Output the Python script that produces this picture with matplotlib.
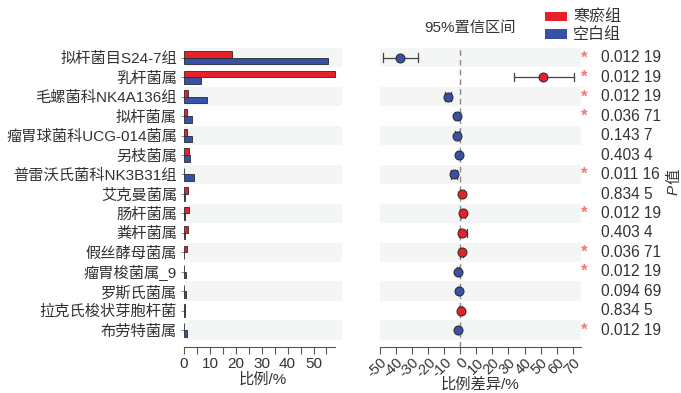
import matplotlib
matplotlib.use("Agg")
import matplotlib.pyplot as plt
from matplotlib.patches import Rectangle
import numpy as np

plt.rcParams['font.family'] = ['Liberation Sans', 'Noto Sans CJK SC']
plt.rcParams['axes.unicode_minus'] = False

# genus names, top to bottom
genera = ["拟杆菌目S24-7组", "乳杆菌属", "毛螺菌科NK4A136组", "拟杆菌属",
          "瘤胃球菌科UCG-014菌属", "另枝菌属", "普雷沃氏菌科NK3B31组", "艾克曼菌属",
          "肠杆菌属", "粪杆菌属", "假丝酵母菌属", "瘤胃梭菌属_9", "罗斯氏菌属",
          "拉克氏梭状芽胞杆菌", "布劳特菌属"]
# mean proportion (%) per group
cold = [18.4, 58.2, 1.7, 1.0, 1.0, 1.8, 0.1, 1.7, 2.1, 1.6, 1.0, 0.1, 0.1, 0.5, 0.1]
blank = [55.5, 6.4, 8.8, 3.2, 2.9, 2.4, 3.9, 0.2, 0.2, 0.2, 0.1, 0.9, 0.9, 0.3, 1.1]
# difference in proportion and 95% CI
diff = [-37.6, 51.7, -7.5, -2.2, -1.9, -0.6, -3.9, 1.3, 1.9, 1.3, 0.9, -1.2, -0.8, 0.2, -1.2]
ci_low = [-48.0, 33.7, -9.5, -3.5, -3.2, -1.8, -5.6, 0.2, 0.6, -0.8, -0.2, -1.8, -1.6, -0.8, -1.9]
ci_high = [-26.5, 70.6, -5.5, -0.9, -0.6, 0.6, -2.2, 2.4, 3.2, 4.0, 2.0, -0.6, 0.0, 1.2, -0.5]
p_values = [0.01219, 0.01219, 0.01219, 0.03671, 0.1437, 0.4034, 0.01116, 0.8345,
            0.01219, 0.4034, 0.03671, 0.01219, 0.09469, 0.8345, 0.01219]

RED = '#e8202a'
BLUE = '#3850a6'
EDGE = '#2a2a2a'
BAND = '#f4f5f5'
TXT = '#333333'

fig = plt.figure(figsize=(6.81, 3.93), dpi=100)
W, H = 681, 393

def px_axes(x0, x1, y0, y1):
    return fig.add_axes([x0 / W, 1 - y1 / H, (x1 - x0) / W, (y1 - y0) / H])

n = len(genera)
y = np.arange(n)
ylim = (14.87, -0.5)

ax1 = px_axes(184, 342, 48, 347)
ax2 = px_axes(380, 580.7, 48, 347)

for ax in (ax1, ax2):
    for i in range(0, n, 2):
        ax.axhspan(i - 0.5, i + 0.5, color=BAND, zorder=0, lw=0)
    ax.set_ylim(*ylim)
    for s in ('top', 'right', 'left'):
        ax.spines[s].set_visible(False)
    ax.spines['bottom'].set_color('#555555')
    ax.spines['bottom'].set_linewidth(0.8)
    ax.tick_params(axis='x', direction='out', length=5, width=0.8, color='#555555',
                   labelsize=11, labelcolor=TXT, pad=2)

# left panel: proportions
bh = 0.34
ax1.barh(y - bh / 2, cold, height=bh, color=RED, edgecolor=EDGE, lw=0.6, zorder=2)
ax1.barh(y + bh / 2, blank, height=bh, color=BLUE, edgecolor=EDGE, lw=0.6, zorder=2)
ax1.set_xlim(0, 61)
ax1.spines['bottom'].set_bounds(0, max(max(cold), max(blank)))
ax1.set_xticks(np.arange(0, 60, 10))
ax1.set_xticks(np.arange(5, 60, 10), minor=True)
ax1.tick_params(axis='x', which='minor', length=5, width=0.8, color='#555555')
ax1.set_yticks(y)
ax1.set_yticklabels(genera, fontsize=11, color=TXT)
ax1.tick_params(axis='y', length=2, width=0.6, color='#777777', pad=3)
ax1.set_xlabel("比例/%", fontsize=11, color=TXT, labelpad=1)

# right panel: difference with CI
ax2.axvline(0, color='#888888', ls=(0, (4, 3)), lw=1.0, zorder=1)
for i in range(n):
    c = RED if diff[i] > 0 else BLUE
    ax2.plot([ci_low[i], ci_high[i]], [i, i], color='#444444', lw=0.9, zorder=2)
    for v in (ci_low[i], ci_high[i]):
        ax2.plot([v, v], [i - 0.22, i + 0.22], color='#444444', lw=0.9, zorder=2)
    ax2.plot(diff[i], i, 'o', ms=6.5, mfc=c, mec=EDGE, mew=0.7, zorder=3)
ax2.set_xlim(-50, 75)
ax2.set_xticks(np.arange(-50, 80, 10))
ax2.set_xticklabels([str(v) for v in range(-50, 80, 10)], rotation=45,
                    ha='right', rotation_mode='anchor')
ax2.tick_params(axis='x', pad=1, labelsize=10.5)
ax2.set_yticks([])
ax2.set_xlabel("比例差异/%", fontsize=11, color=TXT, labelpad=-2)

# significance stars and p values
for i, p in enumerate(p_values):
    yy = 1 - (58 + 19.43 * i) / H
    if p < 0.05:
        fig.text(584 / W, yy, "*", color='#f07878', fontsize=12, ha='center', va='center',
                 fontweight='bold')
    s = str(p)
    fig.text(601 / W, yy, s[:5] + " " + s[5:], color=TXT, fontsize=11.2, ha='left', va='center')

# rotated "P值" axis title, italic P
fig.text(674 / W, 1 - 190 / H, "P", rotation=90, fontsize=11, color=TXT, style='italic',
         ha='center', va='center')
fig.text(674 / W, 1 - 176 / H, "值", rotation=90, fontsize=11, color=TXT,
         ha='center', va='center')

# title and legend
fig.text(470 / W, 1 - 28 / H, "95%置信区间", fontsize=11, color=TXT, ha='center', va='center')
fig.patches.append(Rectangle((545 / W, 1 - 21 / H), 22 / W, 9 / H, transform=fig.transFigure,
                             facecolor=RED, edgecolor='none'))
fig.patches.append(Rectangle((545 / W, 1 - 38.5 / H), 22 / W, 9 / H, transform=fig.transFigure,
                             facecolor=BLUE, edgecolor='none'))
fig.text(573 / W, 1 - 16 / H, "寒瘀组", fontsize=11.5, color=TXT, ha='left', va='center')
fig.text(573 / W, 1 - 34 / H, "空白组", fontsize=11.5, color=TXT, ha='left', va='center')

fig.savefig("out.png", dpi=100)
